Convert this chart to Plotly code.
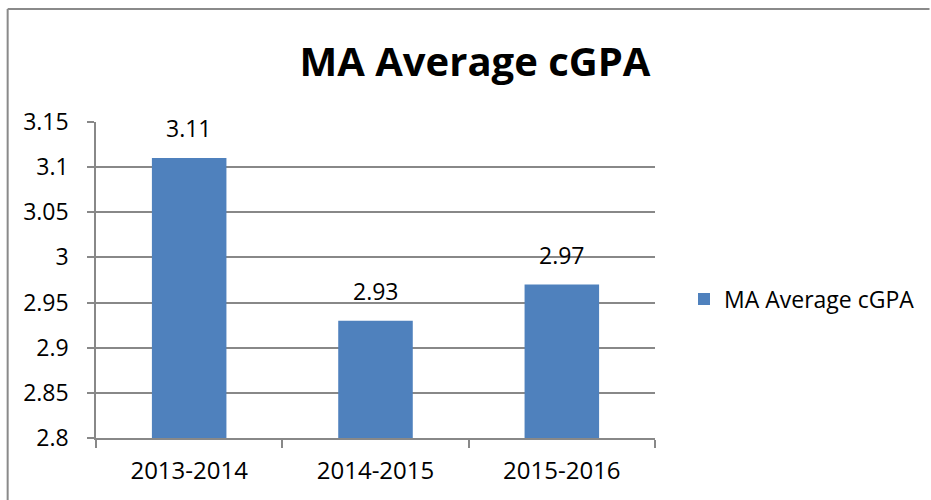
import plotly.graph_objects as go

categories = ["2013-2014", "2014-2015", "2015-2016"]
values = [3.11, 2.93, 2.97]
labels = ["3.11", "2.93", "2.97"]
series_name = "MA Average cGPA"
title_text = "MA Average cGPA"
y_ticks = [2.8, 2.85, 2.9, 2.95, 3.0, 3.05, 3.1, 3.15]
y_tick_text = ["2.8", "2.85", "2.9", "2.95", "3", "3.05", "3.1", "3.15"]

FONT = "Open Sans"
GRID = "#888888"

L, R, T, B = 96, 656, 122, 438
W, H = 931, 500

def px_x(p):
    return (p - L) / (R - L)

def px_y(p):
    return (B - p) / (B - T)

fig = go.Figure()
fig.add_trace(go.Bar(
    x=categories, y=values, name=series_name,
    marker=dict(color="#4F81BD", line=dict(width=0)),
    width=0.40,
    showlegend=True,
))

annotations = [
    dict(x=c, y=v, xref="x", yref="y", text=t, showarrow=False,
         yanchor="bottom", yshift=12,
         font=dict(family=FONT, size=23, color="black"))
    for c, v, t in zip(categories, values, labels)
]

fig.update_layout(
    width=W, height=H,
    margin=dict(l=L, r=W - R, t=T, b=H - B),
    paper_bgcolor="white", plot_bgcolor="white",
    font=dict(family=FONT, size=23, color="black"),
    title=dict(text="<b>" + title_text + "</b>", x=475 / W, xanchor="center",
               y=1 - 62 / H, yanchor="middle",
               font=dict(family=FONT, size=40, color="black")),
    showlegend=True,
    legend=dict(x=px_x(684), y=px_y(299), xanchor="left", yanchor="middle",
                font=dict(family=FONT, size=23, color="black"),
                itemwidth=30, bgcolor="rgba(0,0,0,0)"),
    annotations=annotations,
    xaxis=dict(
        type="category", showgrid=False, showline=True, linecolor=GRID, linewidth=1.5,
        ticks="outside", ticklen=8, tickcolor=GRID, tickwidth=1.5, tickson="boundaries",
        ticklabelstandoff=10,
        tickfont=dict(family=FONT, size=24, color="black"),
    ),
    yaxis=dict(
        range=[2.8, 3.15], tickvals=y_ticks, ticktext=y_tick_text,
        showgrid=True, gridcolor=GRID, gridwidth=1.5,
        showline=True, linecolor=GRID, linewidth=1.5,
        ticks="outside", ticklen=7, tickcolor=GRID, tickwidth=1.5,
        ticklabelstandoff=14, zeroline=False,
        tickfont=dict(family=FONT, size=23, color="black"),
    ),
    shapes=[
        dict(type="line", xref="paper", yref="paper",
             x0=px_x(7.5), x1=px_x(7.5), y0=px_y(9), y1=px_y(500),
             line=dict(color="#8a8a8a", width=2)),
        dict(type="line", xref="paper", yref="paper",
             x0=px_x(7.5), x1=px_x(931), y0=px_y(9), y1=px_y(9),
             line=dict(color="#8a8a8a", width=2)),
    ],
)

fig.write_html("out.html",
               config={"displayModeBar": False},
               post_script=("document.body.style.margin='0';"
                            "document.body.style.overflow='hidden';"
                            "document.documentElement.style.overflow='hidden';"))
